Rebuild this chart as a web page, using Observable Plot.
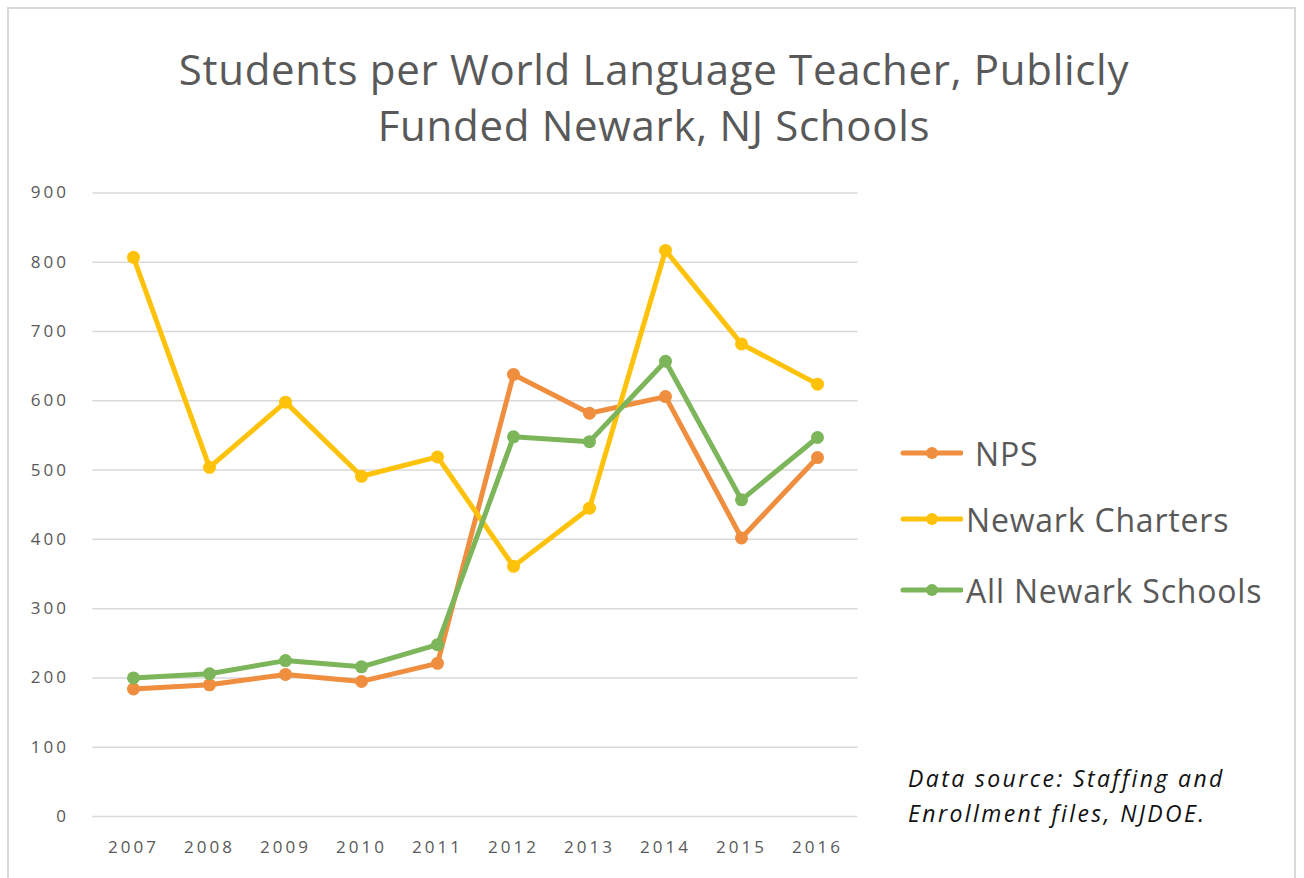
<!DOCTYPE html>
<html><head><meta charset="utf-8">
<script src="https://cdn.jsdelivr.net/npm/d3@7"></script>
<script src="https://cdn.jsdelivr.net/npm/@observablehq/plot@0.6"></script>
<style>
body{margin:0;background:#fff;width:1304px;height:878px;overflow:hidden;position:relative;font-family:"Open Sans",sans-serif;}
#frame{position:absolute;left:7px;top:7px;width:1289px;height:900px;border:2px solid #d9d9d9;box-sizing:border-box;}
#title{position:absolute;left:0;width:1308px;top:41px;text-align:center;font-size:42px;line-height:56px;letter-spacing:0.7px;color:#595959;font-family:"Open Sans",sans-serif;}
#chart{position:absolute;left:0;top:170px;}
.leg{position:absolute;left:893px;height:40px;display:flex;align-items:center;font-size:32px;letter-spacing:0.8px;color:#595959;font-family:"Open Sans",sans-serif;white-space:pre;}
.leg svg{margin-right:3px;}
#source{position:absolute;left:908px;top:761px;font-size:23px;line-height:35px;font-style:italic;color:#111;font-family:"Open Sans",sans-serif;letter-spacing:2.4px;}
</style>
</head><body>
<div id="frame"></div>
<div id="title">Students per World Language Teacher, Publicly<br>Funded Newark, NJ Schools</div>
<div id="chart"></div>
<div id="legend"></div>
<div id="source">Data source: Staffing and<br>Enrollment files, NJDOE.</div>
<script>
const years = [2007, 2008, 2009, 2010, 2011, 2012, 2013, 2014, 2015, 2016];
const nps = [184, 190, 205, 195, 221, 638, 582, 606, 402, 518];
const charters = [807, 504, 598, 491, 519, 361, 445, 817, 682, 624];
const allSchools = [200, 206, 225, 216, 248, 548, 541, 657, 457, 547];
const seriesNames = ["NPS", "Newark Charters", "All Newark Schools"];
const seriesColors = ["#EF8E3E", "#FFC20A", "#7DB55A"];
const yTicks = [0, 100, 200, 300, 400, 500, 600, 700, 800, 900];

const seriesValues = [nps, charters, allSchools];
const data = [];
seriesNames.forEach((name, i) => {
  years.forEach((yr, j) => data.push({series: name, year: yr, value: seriesValues[i][j]}));
});

const chart = Plot.plot({
  width: 880,
  height: 700,
  marginLeft: 92.4,
  marginRight: 22.6,
  marginTop: 22.4,
  marginBottom: 54,
  style: {fontFamily: "'Open Sans', sans-serif", fontSize: "17px", color: "#595959", letterSpacing: "3px", background: "transparent"},
  x: {type: "point", domain: years, padding: 0.5},
  y: {domain: [0, 900]},
  color: {domain: seriesNames, range: seriesColors},
  marks: [
    Plot.gridY(yTicks, {stroke: "#d9d9d9", strokeOpacity: 1, strokeWidth: 1.5}),
    Plot.axisY(yTicks, {tickSize: 0, tickPadding: 24, label: null, fill: "#595959", fontSize: 17}),
    Plot.axisX(years, {tickSize: 0, tickPadding: 24, label: null, tickFormat: d => String(d), fill: "#595959", fontSize: 17}),
    Plot.line(data, {x: "year", y: "value", z: "series", stroke: "series", strokeWidth: 5, strokeLinejoin: "round", strokeLinecap: "round"}),
    Plot.dot(data, {x: "year", y: "value", fill: "series", r: 6.5})
  ]
});
document.getElementById("chart").appendChild(chart);

const legendTops = [433, 499, 570];
const legend = document.getElementById("legend");
seriesNames.forEach((name, i) => {
  const row = document.createElement("div");
  row.className = "leg";
  row.style.top = legendTops[i] + "px";
  row.innerHTML = `<svg width="70" height="20"><line x1="10" x2="68" y1="10" y2="10" stroke="${seriesColors[i]}" stroke-width="5" stroke-linecap="round"/><circle cx="39" cy="10" r="6" fill="${seriesColors[i]}"/></svg><span>${i === 0 ? " " : ""}${name}</span>`;
  legend.appendChild(row);
});
</script>
</body></html>
